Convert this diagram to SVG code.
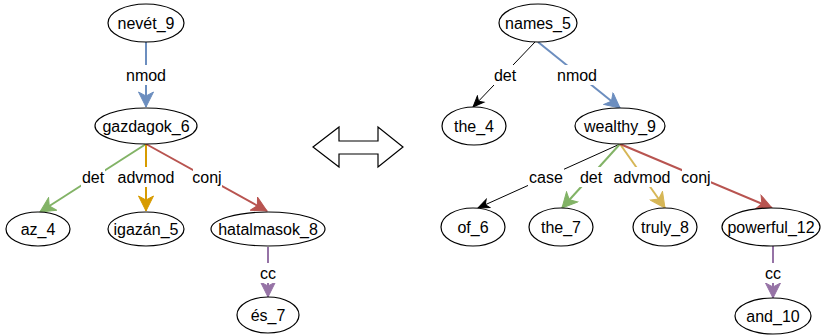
<svg xmlns="http://www.w3.org/2000/svg" width="822" height="335" viewBox="0 0 822 335">
<style>
.n ellipse{fill:#fff;stroke:#000;stroke-width:1.2}
text{font-family:"Liberation Sans",Arial,sans-serif;font-size:16px;fill:#000;text-anchor:middle}
.e line{fill:none}
.bg{fill:#fff;stroke:none}
.blue{stroke:#6c8ebf;stroke-width:2}
.green{stroke:#82b366;stroke-width:2}
.orange{stroke:#d79b00;stroke-width:2}
.yellow{stroke:#d6b656;stroke-width:2}
.red{stroke:#b85450;stroke-width:2}
.purple{stroke:#9673a6;stroke-width:2}
.black{stroke:#000;stroke-width:1}
</style>
<defs>
<marker id="aBlue" markerUnits="userSpaceOnUse" viewBox="-16 -8 17 16" refX="0" refY="0" markerWidth="17" markerHeight="16" orient="auto"><path d="M0,0 L-15,-7.5 L-11,0 L-15,7.5 Z" fill="#6c8ebf" stroke="#6c8ebf" stroke-width="1"/></marker>
<marker id="aGreen" markerUnits="userSpaceOnUse" viewBox="-16 -8 17 16" refX="0" refY="0" markerWidth="17" markerHeight="16" orient="auto"><path d="M0,0 L-15,-7.5 L-11,0 L-15,7.5 Z" fill="#82b366" stroke="#82b366" stroke-width="1"/></marker>
<marker id="aOrange" markerUnits="userSpaceOnUse" viewBox="-16 -8 17 16" refX="0" refY="0" markerWidth="17" markerHeight="16" orient="auto"><path d="M0,0 L-15,-7.5 L-11,0 L-15,7.5 Z" fill="#d79b00" stroke="#d79b00" stroke-width="1"/></marker>
<marker id="aYellow" markerUnits="userSpaceOnUse" viewBox="-16 -8 17 16" refX="0" refY="0" markerWidth="17" markerHeight="16" orient="auto"><path d="M0,0 L-15,-7.5 L-11,0 L-15,7.5 Z" fill="#d6b656" stroke="#d6b656" stroke-width="1"/></marker>
<marker id="aRed" markerUnits="userSpaceOnUse" viewBox="-16 -8 17 16" refX="0" refY="0" markerWidth="17" markerHeight="16" orient="auto"><path d="M0,0 L-15,-7.5 L-11,0 L-15,7.5 Z" fill="#b85450" stroke="#b85450" stroke-width="1"/></marker>
<marker id="aPurple" markerUnits="userSpaceOnUse" viewBox="-16 -8 17 16" refX="0" refY="0" markerWidth="17" markerHeight="16" orient="auto"><path d="M0,0 L-15,-7.5 L-11,0 L-15,7.5 Z" fill="#9673a6" stroke="#9673a6" stroke-width="1"/></marker>
<marker id="aBlack" markerUnits="userSpaceOnUse" viewBox="-12 -6 13 12" refX="0" refY="0" markerWidth="13" markerHeight="12" orient="auto"><path d="M0,0 L-11,-4.5 L-8,0 L-11,4.5 Z" fill="#000" stroke="#000" stroke-width="1"/></marker>
</defs>

<g id="connectors" class="e">
<!-- left tree -->
<line class="blue" x1="146" y1="42" x2="146" y2="107" marker-end="url(#aBlue)"/>
<line class="green" x1="146" y1="144" x2="40" y2="212" marker-end="url(#aGreen)"/>
<line class="orange" x1="146" y1="144" x2="146" y2="211" marker-end="url(#aOrange)"/>
<line class="red" x1="146" y1="144" x2="267" y2="211" marker-end="url(#aRed)"/>
<line class="purple" x1="268" y1="247" x2="268" y2="297" marker-end="url(#aPurple)"/>
<!-- right tree -->
<line class="black" x1="535" y1="42" x2="473" y2="107" marker-end="url(#aBlack)"/>
<line class="blue" x1="538" y1="42" x2="620" y2="108" marker-end="url(#aBlue)"/>
<line class="black" x1="620" y1="144" x2="478" y2="208" marker-end="url(#aBlack)"/>
<line class="green" x1="620" y1="144" x2="562" y2="208" marker-end="url(#aGreen)"/>
<line class="yellow" x1="620" y1="144" x2="665" y2="208" marker-end="url(#aYellow)"/>
<line class="red" x1="620" y1="144" x2="772" y2="208" marker-end="url(#aRed)"/>
<line class="purple" x1="773" y1="246" x2="773" y2="298" marker-end="url(#aPurple)"/>
<!-- labels -->
<rect class="bg" x="125" y="65" width="42" height="20"/><text x="146" y="81">nmod</text>
<rect class="bg" x="81" y="167" width="24" height="20"/><text x="93" y="183">det</text>
<rect class="bg" x="117" y="167" width="59" height="20"/><text x="146" y="183">advmod</text>
<rect class="bg" x="193" y="167" width="29" height="20"/><text x="207" y="183">conj</text>
<rect class="bg" x="259" y="263" width="18" height="20"/><text x="268" y="279">cc</text>
<rect class="bg" x="493" y="65" width="24" height="20"/><text x="505" y="81">det</text>
<rect class="bg" x="556" y="65" width="42" height="20"/><text x="577" y="81">nmod</text>
<rect class="bg" x="528" y="167" width="36" height="20"/><text x="546" y="183">case</text>
<rect class="bg" x="579" y="167" width="24" height="20"/><text x="591" y="183">det</text>
<rect class="bg" x="613" y="167" width="59" height="20"/><text x="642" y="183">advmod</text>
<rect class="bg" x="682" y="167" width="29" height="20"/><text x="696" y="183">conj</text>
<rect class="bg" x="764" y="263" width="18" height="20"/><text x="773" y="279">cc</text>
</g>

<g id="n_nevet_9" class="n"><ellipse cx="146" cy="23" rx="38" ry="19"/><text x="146" y="29">nevét_9</text></g>
<g id="n_gazdagok_6" class="n"><ellipse cx="146" cy="126" rx="51" ry="18"/><text x="146" y="132">gazdagok_6</text></g>
<g id="n_az_4" class="n"><ellipse cx="38" cy="229" rx="32" ry="17"/><text x="38" y="235">az_4</text></g>
<g id="n_igazan_5" class="n"><ellipse cx="146" cy="229" rx="38" ry="17"/><text x="146" y="235">igazán_5</text></g>
<g id="n_hatalmasok_8" class="n"><ellipse cx="268" cy="229" rx="57" ry="17"/><text x="268" y="235">hatalmasok_8</text></g>
<g id="n_es_7" class="n"><ellipse cx="268" cy="315" rx="31" ry="18"/><text x="268" y="321">és_7</text></g>

<g id="n_names_5" class="n"><ellipse cx="538" cy="23" rx="39" ry="19"/><text x="538" y="29">names_5</text></g>
<g id="n_the_4" class="n"><ellipse cx="474" cy="126" rx="32" ry="19"/><text x="474" y="132">the_4</text></g>
<g id="n_wealthy_9" class="n"><ellipse cx="620" cy="126" rx="45" ry="18"/><text x="620" y="132">wealthy_9</text></g>
<g id="n_of_6" class="n"><ellipse cx="473" cy="227" rx="32" ry="19"/><text x="473" y="233">of_6</text></g>
<g id="n_the_7" class="n"><ellipse cx="561" cy="227" rx="32" ry="19"/><text x="561" y="233">the_7</text></g>
<g id="n_truly_8" class="n"><ellipse cx="665" cy="227" rx="32" ry="19"/><text x="665" y="233">truly_8</text></g>
<g id="n_powerful_12" class="n"><ellipse cx="771" cy="227" rx="49" ry="19"/><text x="771" y="233">powerful_12</text></g>
<g id="n_and_10" class="n"><ellipse cx="773" cy="316" rx="38" ry="18"/><text x="773" y="322">and_10</text></g>

<g id="double_arrow"><polygon points="313,147 339,127 339,141 378,141 378,127 403,147 378,167 378,154 339,154 339,167" fill="#fff" stroke="#000" stroke-width="1.2"/></g>
</svg>
